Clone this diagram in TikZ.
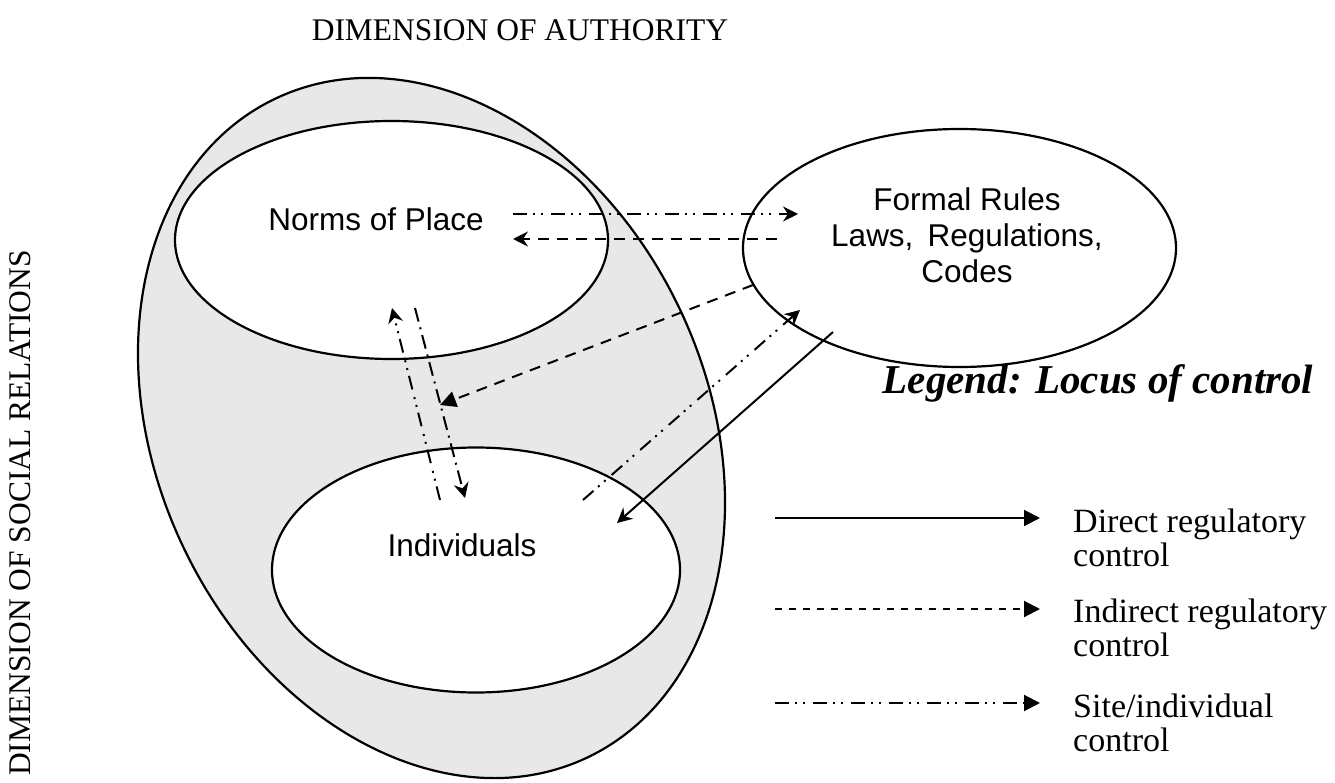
\documentclass[tikz,border=0pt]{standalone}
\usepackage{fontspec}
\setmainfont{Liberation Serif}
\newfontfamily\arialfont{Liberation Sans}
\usetikzlibrary{shapes.geometric, arrows.meta}
\definecolor{bgray}{RGB}{232,232,232}
\begin{document}
\begin{tikzpicture}[x=1pt,y=-1pt,
  ring/.style={ellipse, draw, line width=2.2pt, inner sep=0pt, outer sep=0pt},
  conn/.style={line width=2pt},
  ddot/.style={conn, dash pattern=on 14pt off 6pt on 2pt off 6pt on 2pt off 8pt},
  ddash/.style={conn, dash pattern=on 14pt off 6pt on 2pt off 6pt},
  dsh/.style={conn, dash pattern=on 11pt off 8pt},
  ldsh/.style={conn, dash pattern=on 7pt off 7pt},
  sth/.style={-{Stealth[length=15pt,width=15pt,inset=5pt]}},
  tri/.style={-{Triangle[length=16pt,width=16pt]}},
  sanslab/.style={font=\arialfont\fontsize{31.5}{36}\selectfont, align=center, inner sep=0pt},
  serlab/.style={font=\fontsize{31.5}{34}\selectfont, inner sep=0pt},
  legtxt/.style={font=\fontsize{34}{34}\selectfont, inner sep=0pt, align=left, anchor=west}
]
\useasboundingbox (0,0) rectangle (1335,783);

% ellipses
\node[ring, fill=bgray, minimum width=550.6pt, minimum height=729pt, rotate=25.2] (outer) at (431.5,428) {};
\node[ring, fill=white, minimum width=433pt, minimum height=238pt] (norms) at (391.5,240) {};
\node[ring, fill=white, minimum width=408pt, minimum height=245pt] (indiv) at (476,570) {};
\node[ring, fill=white, minimum width=433pt, minimum height=238pt] (rules) at (959.5,248) {};

% coordinates of connector ends
\coordinate (a1s) at (513,214);  \coordinate (a1e) at (798,214);
\coordinate (a2s) at (777,239);  \coordinate (a2e) at (513,239);
\coordinate (a3s) at (440,500);  \coordinate (a3e) at (392,308);
\coordinate (a4s) at (415,308);  \coordinate (a4e) at (465,498);
\coordinate (a5s) at (753,285);  \coordinate (a5e) at (440,405);
\coordinate (a6s) at (583,500);  \coordinate (a6e) at (800,310);
\coordinate (a7s) at (833,332);  \coordinate (a7e) at (617,523);

\draw[ddot, sth] (a1s) -- (a1e);
\draw[dsh, sth] (a2s) -- (a2e);
\draw[ddot, sth] (a3s) -- (a3e);
\draw[ddash, sth] (a4s) -- (a4e);
\draw[dsh, tri] (a5s) -- (a5e);
\draw[ddot, sth] (a6s) -- (a6e);
\draw[conn, sth] (a7s) -- (a7e);

% texts
\node[sanslab] (tnorms) at (376,219) {Norms of Place};
\node[sanslab] (tind) at (462,545) {Individuals};
\node[sanslab] (trules) at (967,235) {Formal Rules\\Laws,\hspace{0.45em}Regulations,\\Codes};

\node[serlab] (title) at (520,30) {DIMENSION OF AUTHORITY};
\node[serlab, rotate=90] (vtitle) at (20,513) {DIMENSION OF SOCIAL RELATIONS};
\node[inner sep=0pt, font=\bfseries\itshape\fontsize{41}{41}\selectfont] (legt) at (1098,383) {Legend: Locus of control};

% legend
\coordinate (l1s) at (775,518); \coordinate (l1e) at (1040,518);
\coordinate (l2s) at (775,609); \coordinate (l2e) at (1040,609);
\coordinate (l3s) at (775,703); \coordinate (l3e) at (1040,703);
\draw[conn, tri] (l1s) -- (l1e);
\draw[ldsh, tri] (l2s) -- (l2e);
\draw[ddot, tri] (l3s) -- (l3e);

\node[legtxt] (lt1) at (1073,538) {Direct regulatory\\control};
\node[legtxt] (lt2) at (1073,628) {Indirect regulatory\\control};
\node[legtxt] (lt3) at (1073,723) {Site/individual\\control};
\end{tikzpicture}
\end{document}
